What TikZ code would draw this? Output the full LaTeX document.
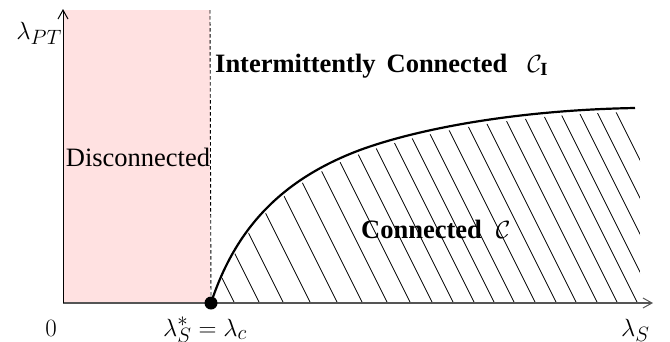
\documentclass[tikz,border=0pt]{standalone}
\usepackage{fontspec}
\setmainfont{Liberation Serif}
\usetikzlibrary{arrows.meta}
\definecolor{pinkfill}{RGB}{255,225,225}
\definecolor{axisgray}{RGB}{85,85,85}
\tikzset{
  lbl/.style={inner sep=0pt, font=\fontsize{26.5}{30}\selectfont},
  mlbl/.style={inner sep=0pt, font=\fontsize{28}{32}\selectfont},
  axisline/.style={line width=1.6pt, axisgray, -{Straight Barb[length=9pt,width=10pt,line width=1pt]}},
  yaxisline/.style={line width=1pt, black, -{Straight Barb[length=9pt,width=10pt,line width=1pt]}},
  hatch/.style={line width=0.75pt, black},
  boundary/.style={line width=2.2pt, black},
  divider/.style={line width=0.9pt, black, dash pattern=on 3.5pt off 2.5pt},
}
\begin{document}
\begin{tikzpicture}[x=1pt,y=-1pt]
\useasboundingbox (0,0) rectangle (670,341);
% pink region
\fill[pinkfill] (63,10) rectangle (210,303);
% coordinates
\coordinate (O) at (63,303);
\coordinate (ytop) at (63,9);
\coordinate (xend) at (653,303);
\coordinate (ctop) at (210,10);
\coordinate (crit) at (211,303);
% hatching clipped to connected region (slightly below the boundary)
\begin{scope}
\clip (211,307) .. controls (235,234) and (280,184) .. (360,154)
      .. controls (420,132) and (520,114) .. (635,112) -- (640,112) -- (640,302) -- (211,302) -- cycle;
\foreach \xa in {203,228,252,279,306,331,356,379,401,422,443,463,483,504,525,545,566,586,606,624,643,661,680} {
  \draw[hatch] (\xa-90,60) -- (\xa+35,310);
}
\end{scope}
% boundary curve
\draw[boundary] (crit) .. controls (235,230) and (280,180) .. (360,150)
      .. controls (420,128) and (520,110) .. (635,108);
% divider
\draw[divider] (ctop) -- (crit);
% axes
\draw[axisline] (O) -- (xend);
\draw[yaxisline] (O) -- (ytop);
\fill (crit) circle (6.5pt);
% labels
\node[mlbl, anchor=base east] (lpt) at (62,39) {$\lambda_{PT}$};
\node[mlbl, anchor=base] (zero) at (51,336) {$0$};
\node[mlbl, anchor=base] (lsc) at (205,336) {$\lambda_S^* = \lambda_c$};
\node[mlbl, anchor=base west] (ls) at (621,336) {$\lambda_S$};
\node[lbl, anchor=base] (disc) at (138,166) {Disconnected};
\node[lbl, anchor=base west] (inter) at (215,72) {\textbf{Intermittently}\hspace{11pt}\textbf{Connected}\hspace{20pt}$\mathcal{C}_{\mathbf{I}}$};
\node[lbl, anchor=base west] (conn) at (361,238) {\textbf{Connected}\hspace{14pt}$\mathcal{C}$};
\end{tikzpicture}
\end{document}
